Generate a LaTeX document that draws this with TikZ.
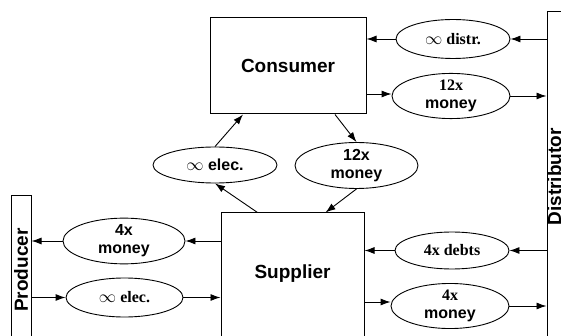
\documentclass[tikz,border=0pt]{standalone}
\usepackage{fontspec}
\setmainfont{Liberation Serif}
\setsansfont{Liberation Sans}
\usetikzlibrary{positioning,shapes.geometric,arrows.meta}

\begin{document}
\begin{tikzpicture}[x=1pt, y=-1pt,
						party/.style={rectangle, draw=black!100, line width=1pt, font=\sffamily\bfseries\fontsize{19}{21}\selectfont},
						bar/.style={rectangle, draw=black!100, line width=1pt, minimum width=20pt, inner sep=0pt, font=\sffamily\bfseries\fontsize{19}{21}\selectfont},
						msg/.style={ellipse, draw=black!100, line width=0.9pt, minimum width=118pt, minimum height=38pt, inner sep=0pt, align=center, font=\bfseries\fontsize{16}{18}\selectfont},
						wide/.style={minimum width=124pt, minimum height=36pt}
					]
					\clip (0,0) rectangle (561,336);
					\node[party, minimum width=156pt, minimum height=96pt] (consumer) at (288,66) {Consumer};
					\node[party, minimum width=143pt, minimum height=132pt, text depth=14pt] (supplier) at (292.5,279) {Supplier};
					\node[bar, minimum height=330pt] (distributor) at (557,177) {\rotatebox{90}{\raisebox{-4pt}[0pt][0pt]{Distributor}}};
					\node[bar, minimum height=148pt] (producer) at (21,270) {\rotatebox{90}{Producer}};
					\node[msg, minimum width=114pt, minimum height=39pt] (distr) at (453,39) {$\infty$ distr.};
					\node[msg] (moneyC) at (451,96) {12x\\\sffamily money};
					\node[msg, wide] (elecS) at (215,165) {\sffamily$\infty$ elec.};
					\node[msg, wide, minimum width=123pt] (moneyS) at (356.5,165.5) {\sffamily 12x\\\sffamily money};
					\node[msg, minimum width=122pt] (moneyP) at (124,241) {\sffamily 4x\\\sffamily money};
					\node[msg, minimum width=117pt, minimum height=39pt] (elecP) at (124.5,297.5) {$\infty$ elec.};
					\node[msg, minimum width=114pt, minimum height=37pt] (debts) at (452,250.5) {4x debts};
					\node[msg] (moneyD) at (450,306) {4x\\\sffamily money};
					\begin{scope}[line width=0.9pt, -{Latex[length=10pt, width=7pt]}]
					\draw (distr.east -| distributor.west) -- (distr.east);
					\draw (distr.west) -- (distr.west -| consumer.east);
					\draw ([yshift=2pt]moneyC.west -| consumer.east) -- ([yshift=2pt]moneyC.west);
					\draw (moneyC.east) -- (moneyC.east -| distributor.west);
					\draw (elecS.north) -- ([xshift=-45pt]consumer.south);
					\draw ([xshift=47pt]consumer.south) -- (moneyS.north);
					\draw ([xshift=-35pt]supplier.north) -- (elecS.south);
					\draw (moneyS.south) -- ([xshift=33pt]supplier.north);
					\draw (moneyP.east -| supplier.west) -- (moneyP.east);
					\draw (moneyP.west) -- (moneyP.west -| producer.east);
					\draw (elecP.west -| producer.east) -- (elecP.west);
					\draw (elecP.east) -- (elecP.east -| supplier.west);
					\draw (debts.east -| distributor.west) -- (debts.east);
					\draw (debts.west) -- (debts.west -| supplier.east);
					\draw ([yshift=4pt]moneyD.west -| supplier.east) -- ([yshift=4pt]moneyD.west);
					\draw (moneyD.east) -- (moneyD.east -| distributor.west);
					\end{scope}
					\end{tikzpicture}
\end{document}
